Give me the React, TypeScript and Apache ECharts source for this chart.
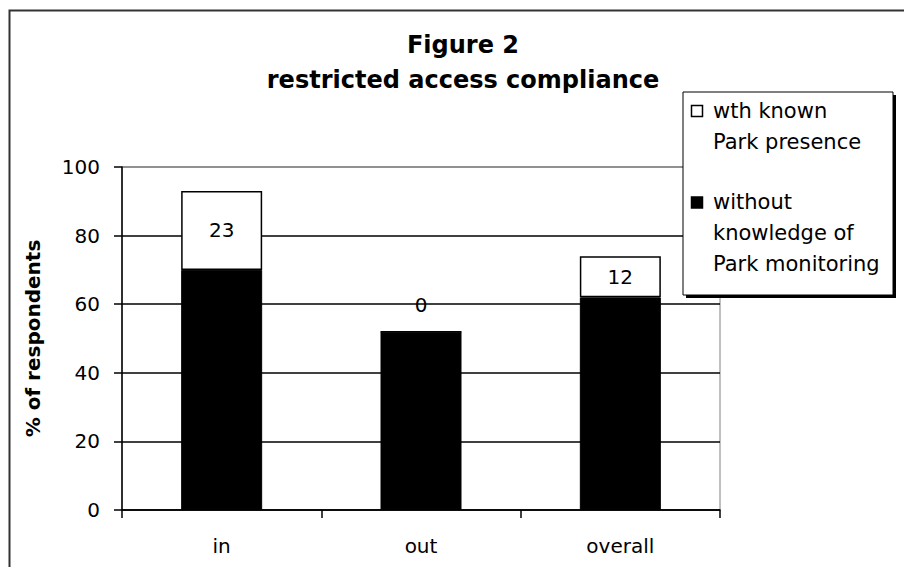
import React, { useEffect, useRef } from "react";
import * as echarts from "echarts";

const titleLines = ["Figure 2", "restricted access compliance"];
const yAxisName = "% of respondents";
const categories = ["in", "out", "overall"];
const seriesNames = ["wth known\nPark presence", "without\nknowledge of\nPark monitoring"];
const withoutKnowledge = [70, 52, 62];
const withKnownPresence = [23, 0, 12];
const yMin = 0;
const yMax = 100;
const yInterval = 20;

const FONT = "DejaVu Sans";

export default function App() {
  const ref = useRef<HTMLDivElement>(null);
  useEffect(() => {
    if (!ref.current) return;
    const chart = echarts.init(ref.current, undefined, { renderer: "svg" });
    const topData = withKnownPresence.map((v) =>
      v === 0
        ? { value: v, label: { position: "top", distance: 16 } }
        : { value: v }
    );
    chart.setOption({
      animation: false,
      backgroundColor: "#ffffff",
      title: {
        text: titleLines.join("\n"),
        left: 458,
        textAlign: "center",
        top: 22,
        textStyle: {
          fontFamily: FONT,
          fontWeight: "bold",
          fontSize: 24,
          lineHeight: 35,
          color: "#000",
        },
      },
      grid: {
        left: 122,
        right: 192,
        top: 167,
        bottom: 65,
        show: true,
        borderColor: "#808080",
        borderWidth: 1,
        backgroundColor: "transparent",
      },
      xAxis: {
        type: "category",
        data: categories,
        axisLine: { lineStyle: { color: "#000", width: 1.5 } },
        axisTick: { show: true, length: 8, lineStyle: { color: "#000", width: 1.5 } },
        axisLabel: { fontFamily: FONT, fontSize: 20, color: "#000", margin: 26 },
      },
      yAxis: {
        type: "value",
        min: yMin,
        max: yMax,
        interval: yInterval,
        name: yAxisName,
        nameLocation: "middle",
        nameRotate: 90,
        nameGap: 79,
        nameTextStyle: { fontFamily: FONT, fontWeight: "bold", fontSize: 20, color: "#000" },
        axisLine: { show: true, lineStyle: { color: "#000", width: 1.5 } },
        axisTick: { show: true, length: 8, lineStyle: { color: "#000", width: 1.5 } },
        axisLabel: { fontFamily: FONT, fontSize: 20, color: "#000", margin: 22 },
        splitLine: {
          show: true,
          lineStyle: {
            color: ["#000", "#000", "#000", "#000", "#000", "#808080"],
            width: 1.5,
          },
        },
      },
      series: [
        {
          name: seriesNames[1],
          type: "bar",
          stack: "total",
          barWidth: 81,
          data: withoutKnowledge,
          itemStyle: { color: "#000", borderColor: "#000", borderWidth: 1 },
        },
        {
          name: seriesNames[0],
          type: "bar",
          stack: "total",
          barWidth: 81,
          data: topData,
          itemStyle: { color: "#fff", borderColor: "#000", borderWidth: 1.5 },
          label: {
            show: true,
            position: "inside",
            fontFamily: FONT,
            fontSize: 20,
            color: "#000",
          },
        },
      ],
      graphic: [
        {
          type: "polyline",
          shape: { points: [[9.5, 620], [9.5, 10.5], [940, 10.5]] },
          style: { stroke: "#333", lineWidth: 2, fill: "none" },
          z: 100,
        },
        {
          type: "rect",
          shape: { x: 686, y: 95, width: 210, height: 203 },
          style: { fill: "#000" },
          z: 100,
        },
        {
          type: "rect",
          shape: { x: 683, y: 92, width: 210, height: 203 },
          style: { fill: "#fff", stroke: "#000", lineWidth: 1 },
          z: 101,
        },
        {
          type: "rect",
          shape: { x: 691.5, y: 105.5, width: 11, height: 11 },
          style: { fill: "#fff", stroke: "#000", lineWidth: 1.5 },
          z: 102,
        },
        {
          type: "text",
          x: 713,
          y: 95.5,
          style: {
            text: seriesNames[0],
            fontFamily: FONT,
            fontSize: 21,
            lineHeight: 31,
            fill: "#000",
            verticalAlign: "top",
            align: "left",
          },
          z: 102,
        },
        {
          type: "rect",
          shape: { x: 691.5, y: 197, width: 11, height: 11 },
          style: { fill: "#000", stroke: "#000", lineWidth: 1.5 },
          z: 102,
        },
        {
          type: "text",
          x: 713,
          y: 186.5,
          style: {
            text: seriesNames[1],
            fontFamily: FONT,
            fontSize: 21,
            lineHeight: 31,
            fill: "#000",
            verticalAlign: "top",
            align: "left",
          },
          z: 102,
        },
      ],
    });
    return () => chart.dispose();
  }, []);
  return <div ref={ref} style={{ width: 912, height: 575, margin: -8 }} />;
}
